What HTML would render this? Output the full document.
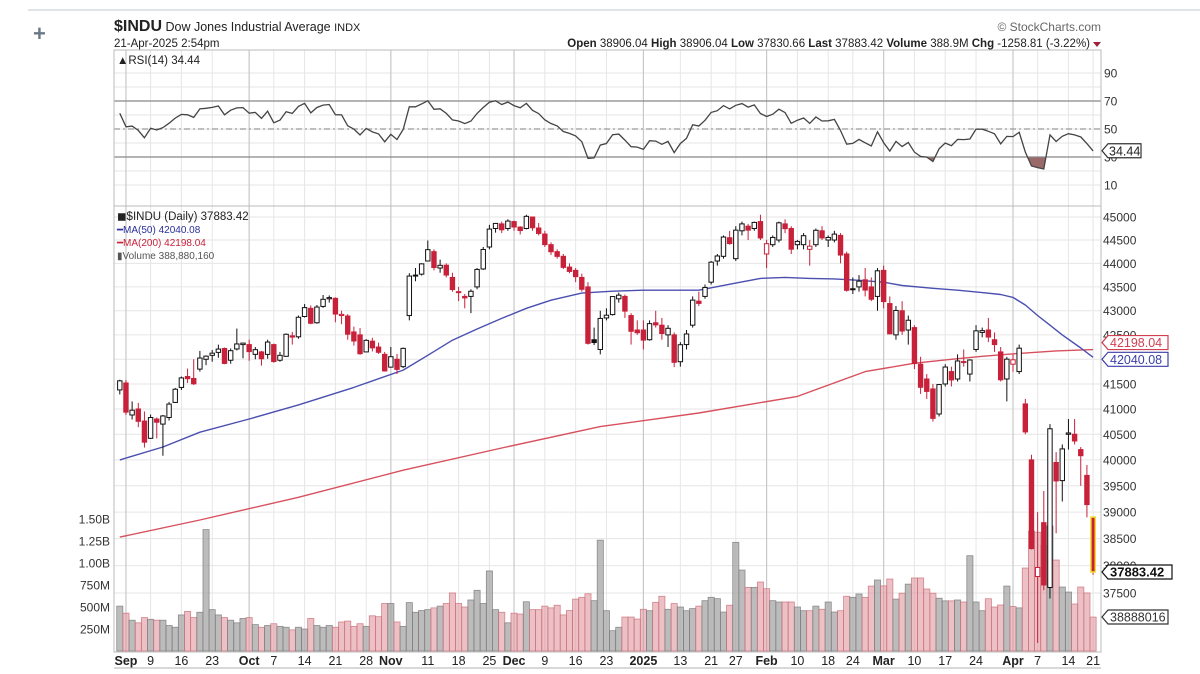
<!DOCTYPE html>
<html><head><meta charset="utf-8">
<style>
html,body{margin:0;padding:0;background:#fff;width:1200px;height:674px;overflow:hidden}
svg{display:block}
text{font-family:"Liberation Sans",Arial,sans-serif}
</style></head>
<body>
<svg id="chart" width="1200" height="674" viewBox="0 0 1200 674" xmlns="http://www.w3.org/2000/svg">
  <line x1="28" y1="10" x2="1200" y2="10" stroke="#d5dbe3" stroke-width="1.5"/>
  <text x="33" y="41" font-size="22" fill="#6d7886" font-weight="bold">+</text>
  <text x="114" y="31" font-size="12.5" fill="#222"><tspan font-weight="bold" font-size="16">$INDU</tspan> Dow Jones Industrial Average <tspan font-size="11">INDX</tspan></text>
  <text x="114" y="47" font-size="11.5" fill="#222">21-Apr-2025 2:54pm</text>
  <text x="1101" y="31" font-size="12" fill="#666" text-anchor="end">© StockCharts.com</text>
  <text x="1090" y="47" font-size="11.5" fill="#222" text-anchor="end"><tspan font-weight="bold">Open</tspan> 38906.04 <tspan font-weight="bold">High</tspan> 38906.04 <tspan font-weight="bold">Low</tspan> 37830.66 <tspan font-weight="bold">Last</tspan> 37883.42 <tspan font-weight="bold">Volume</tspan> 388.9M <tspan font-weight="bold">Chg</tspan> -1258.81 (-3.22%)</text>
  <path d="M1093,42 L1101,42 L1097,47 Z" fill="#a0203a"/>
  <g id="grid"></g>
  <g id="vol"></g>
  <g id="lines"></g>
  <g id="candles"></g>
  <g id="rsi"></g>
  <g id="axes"></g>
</svg>
<script>
const closes=[41563,40937,40975,40755,40345,40830,40737,40861,41097,41394,41622,41606,41503,42025,42063,42124,42208,41915,42175,42313,42330,
42156,42196,42011,42352,41954,42080,42512,42454,42864,43065,42740,43077,43239,43275,42931,42924,42514,42374,42114,42387,42233,42142,41763,
42052,41794,42222,43729,43729,43989,44293,43911,43958,43751,43445,43390,43269,43408,43870,44297,44737,44860,44722,44911,
44782,44705,45014,44766,44643,44402,44248,44149,43914,43828,43717,43450,42326,42342,42840,42907,43297,43326,42992,42574,42544,
42392,42732,42706,42528,42635,41938,42297,42518,43222,43153,43488,44025,44157,44565,44424,44714,44850,44714,44882,44545,
44421,44556,44873,44747,44303,44470,44594,44368,44711,44546,44556,44628,44177,43428,43461,43621,43433,43240,43841,
43191,42521,43006,42579,42802,41912,41433,41350,40813,41488,41842,41581,41965,41953,41985,42583,42587,42455,42300,41584,42002,
41989,42226,40546,38315,37966,37646,40608,39594,40213,40525,40368,40081,39142,37883];
const opens=[41380,41520,40880,41000,40760,40420,40800,40700,40830,41130,41430,41650,41610,41800,42000,42080,42140,42220,41980,42210,42300,
42300,42100,42150,42100,42300,41980,42060,42480,42460,42880,43050,42750,43090,43250,43260,42900,42890,42560,42500,42150,42370,42250,42100,
41840,42000,41850,42900,43750,43770,44050,44250,43900,43960,43700,43400,43300,43300,43500,43880,44350,44750,44850,44750,
44900,44780,44750,45000,44760,44630,44400,44250,44150,43920,43850,43700,43500,42400,42200,42850,42920,43250,43300,42900,42600,
42600,42400,42750,42700,42500,42500,41950,42300,42700,43200,43300,43600,44050,44150,44550,44100,44700,44800,44750,44900,
44200,44400,44500,44850,44750,44400,44400,44300,44400,44700,44500,44500,44600,44200,43450,43500,43650,43500,43300,
43850,43150,42500,43000,42600,42650,41900,41600,41400,40900,41500,41750,41600,41950,41700,42200,42550,42600,42400,42150,41600,
41900,41750,41100,40000,37800,38800,37600,39950,39600,40500,40500,40200,39700,38906];
const highs=[41585,41580,41150,41120,40950,40890,40830,40880,41140,41420,41650,41810,42000,42170,42080,42190,42300,42240,42220,42630,42340,
42400,42250,42170,42400,42320,42150,42530,42560,42900,43140,43110,43120,43330,43320,43280,43000,42930,42670,42640,42410,42440,42340,42150,
42250,42110,42240,43790,43900,44000,44490,44300,44080,44000,43800,43500,43350,43450,43900,44350,44830,44870,44900,44950,
44920,44800,45050,45010,44870,44700,44450,44300,44200,44000,43900,43780,43600,42650,43000,43050,43300,43380,43340,42950,42800,
42800,42800,43000,42850,42700,42550,42350,42600,43300,43400,43550,44050,44200,44600,44700,44800,44900,44850,44900,45050,
44500,44600,44900,44950,44800,44500,44650,44500,44750,44800,44600,44700,44650,44250,43700,43750,43900,43700,43900,
43950,43300,43100,43200,42900,42700,42050,41700,41500,41500,41900,41850,42100,42200,42000,42700,42650,42850,42550,42250,42050,
42100,42300,41200,40100,39000,39400,40700,40150,40300,40800,40800,40250,39900,38906];
const lows=[41290,40880,40790,40640,40240,40410,40420,40080,40770,41120,41380,41520,41480,41750,41880,41950,42030,41900,41910,42180,42020,
41970,42000,41870,42010,41930,41950,42050,42300,42420,42860,42720,42730,43060,43170,42760,42720,42400,42280,42090,42150,42160,42110,41750,
41830,41700,41820,42800,43620,43740,44040,43850,43800,43700,43400,43200,43050,42950,43450,43860,44300,44660,44650,44700,
44700,44620,44730,44700,44600,44350,44180,44100,43880,43790,43600,43400,42300,42290,42100,42800,42900,43170,42850,42300,42500,
42200,42380,42650,42400,42250,41840,41850,42200,42650,43100,43250,43550,43950,44100,44400,44050,44600,44500,44700,44500,
43900,44350,44450,44650,44200,44300,44300,43950,44350,44500,44350,44450,44000,43400,43350,43400,43300,43200,43000,
43050,42600,42400,42500,42300,41800,41300,41200,40750,40850,41450,41450,41550,41850,41550,42150,42450,42350,42150,41550,41150,
41750,41700,40500,38300,36600,37550,37400,38600,39200,40200,40300,39500,38900,37830];
const volumes=[510,430,350,320,380,360,350,350,290,270,410,450,380,440,1380,470,410,380,350,320,370,
380,300,270,290,310,280,270,240,270,250,370,290,270,290,270,330,340,280,310,280,400,390,540,
540,330,280,550,440,460,470,490,510,540,660,540,500,580,690,540,910,470,440,320,
430,420,560,470,470,510,490,520,410,460,590,610,650,572,1260,458,231,270,386,386,363,
474,458,553,622,474,539,500,458,482,510,572,610,595,443,520,1235,920,723,723,784,
708,572,557,557,557,500,458,458,510,474,557,443,458,622,610,648,610,738,807,
740,818,590,657,760,830,830,705,657,600,570,570,580,557,1083,557,458,594,500,523,738,
506,490,943,1364,1350,1200,1420,1034,727,670,534,727,660,386];
const priorCloses=[40589,40358,40743,40539,40935,40743,40842,40348,39737,38703,38998,38763,39446,39498,39357,39765,40008,40563,40659,40896,40834,40890,40712,41175,41240,41250,41091,41335];
const ma50Idx=[0,7,13,21,29,38,46,50,54,58,62,66,70,75,80,85,94,100,104,108,112,116,120,124,127,132,136,140,143,145,147,149,151,153,156,158];
const ma50Val=[40000,40250,40540,40800,41080,41430,41780,42080,42390,42620,42840,43050,43220,43370,43410,43430,43430,43580,43680,43700,43680,43670,43640,43600,43530,43470,43430,43380,43340,43280,43120,42900,42700,42500,42230,42040];
const ma200Idx=[0,13,29,46,62,78,94,110,121,129,135,140,146,152,158];
const ma200Val=[38530,38850,39280,39800,40230,40650,40920,41250,41750,41920,42000,42060,42120,42170,42198];
const priceTicks=[45000,44500,44000,43500,43000,42500,42000,41500,41000,40500,40000,39500,39000,38500,38000,37500];
const volTickVals=[1500,1250,1000,750,500,250];
const volTickLabels=["1.50B","1.25B","1.00B","750M","500M","250M"];
const rsiTicks=[90,70,50,30,10];
const xLabelIdx=[1,5,10,15,21,25,30,35,40,44,50,55,60,64,69,74,79,85,91,96,100,105,110,115,119,124,129,134,139,145,149,154,158];
const xLabelText=["Sep","9","16","23","Oct","7","14","21","28","Nov","11","18","25","Dec","9","16","23","2025","13","21","27","Feb","10","18","24","Mar","10","17","24","Apr","7","14","21"];
const monthIdx=[1,21,44,64,85,105,124,145];

const NS="http://www.w3.org/2000/svg";
const L=114,R=1101,RT=50,RB=206,PB=652;
const X=i=>119.8+i*6.16;
const lnTop=Math.log(45000);
const YP=p=>217+(lnTop-Math.log(p))*2062;
const YV=v=>651-v*0.088;
const YR=r=>129-(r-50)*1.4;
function mk(tag,attrs,parent){const e=document.createElementNS(NS,tag);for(const k in attrs)e.setAttribute(k,attrs[k]);parent.appendChild(e);return e;}
const G=document.getElementById('grid'),V=document.getElementById('vol'),LN=document.getElementById('lines'),C=document.getElementById('candles'),RS=document.getElementById('rsi'),AX=document.getElementById('axes');

for(let r=10;r<=90;r+=10){const l=mk('line',{x1:L,x2:R,y1:YR(r),y2:YR(r),stroke:'#e6e6e6','stroke-width':1},G);

}
priceTicks.forEach(p=>{const l=mk('line',{x1:L,x2:R,y1:YP(p),y2:YP(p),stroke:'#e6e6e6','stroke-width':1},G);

});
xLabelIdx.forEach(i=>{const m=monthIdx.includes(i);const l=mk('line',{x1:X(i),x2:X(i),y1:RT,y2:PB,stroke:m?'#c8c8c8':'#e6e6e6','stroke-width':m?1.2:1},G);

});

volumes.forEach((v,i)=>{const prev=i===0?priorCloses[priorCloses.length-1]:closes[i-1];const dn=closes[i]<prev;
const r=mk('rect',{x:X(i)-3.08,y:YV(v),width:6.16,height:651-YV(v),fill:dn?'rgba(220,140,150,0.55)':'rgba(160,160,160,0.7)',stroke:dn?'rgba(200,110,120,0.8)':'rgba(120,120,120,0.8)','stroke-width':0.8},V);

});

function line(idx,vals,color,name){let d='';idx.forEach((i,k)=>{d+=(k?'L':'M')+X(i).toFixed(1)+','+YP(vals[k]).toFixed(1);});
const p=mk('path',{d:d,fill:'none',stroke:color,'stroke-width':1.4,'stroke-linejoin':'round'},LN);

}
line(ma200Idx,ma200Val,'#d8505e','ma200-line');
line(ma50Idx,ma50Val,'#4a4fb0','ma50-line');

closes.forEach((c,i)=>{const o=opens[i],h=highs[i],lo=lows[i];const prev=i===0?priorCloses[priorCloses.length-1]:closes[i-1];
const col=c<prev?'#c8213a':'#111';const x=X(i);
const w=mk('line',{x1:x,x2:x,y1:YP(h),y2:YP(lo),stroke:col,'stroke-width':1},C);


const top=YP(Math.max(o,c)),bot=YP(Math.min(o,c));const filled=c<o;const last=i===closes.length-1;
const b=mk('rect',{x:x-2.2,y:top,width:4.4,height:Math.max(1,bot-top),fill:filled?col:'#fff',stroke:last?'#f2e030':col,'stroke-width':last?1.5:1},C);

});

// RSI (Wilder 14) from closes
const all=priorCloses.concat(closes);let ag=0,al=0;for(let k=1;k<=14;k++){const d=all[k]-all[k-1];if(d>0)ag+=d;else al-=d;}ag/=14;al/=14;
const rsiAll=[];for(let k=15;k<all.length;k++){const d=all[k]-all[k-1];ag=(ag*13+Math.max(d,0))/14;al=(al*13+Math.max(-d,0))/14;rsiAll.push(100-100/(1+ag/al));}
const rsiVals=rsiAll.slice(rsiAll.length-closes.length);
const cpath=mk('clipPath',{id:'below30'},RS);
mk('rect',{x:L,y:YR(30),width:R-L,height:40},cpath);
let dr='';rsiVals.forEach((r,i)=>{dr+=(i?'L':'M')+X(i).toFixed(1)+','+YR(r).toFixed(1);});
const fill=mk('path',{d:dr+'L'+X(rsiVals.length-1)+','+YR(30)+'L'+X(0)+','+YR(30)+'Z',fill:'#9a6a6a','clip-path':'url(#below30)'},RS);


[[70,'#888',''],[30,'#888',''],[50,'#999','6,3,2,3']].forEach(a=>{const l=mk('line',{x1:L,x2:R,y1:YR(a[0]),y2:YR(a[0]),stroke:a[1],'stroke-width':1.3,'stroke-dasharray':a[2]},RS);

});
const rl=mk('path',{d:dr,fill:'none',stroke:'#444','stroke-width':1.3},RS);



[[L,RT,R-L,RB-RT],[L,RB,R-L,PB-RB]].forEach((r,k)=>{const e=mk('rect',{x:r[0],y:r[1],width:r[2],height:r[3],fill:'none',stroke:'#bbb','stroke-width':1},AX);

});
const xb=mk('line',{x1:L,x2:R,y1:668,y2:668,stroke:'#ccc','stroke-width':1.5},AX);



rsiTicks.forEach(r=>{const t=mk('text',{x:1104,y:YR(r)+4.5,'font-size':12,fill:'#333'},AX);t.textContent=r;

});
priceTicks.forEach(p=>{const t=mk('text',{x:1103,y:YP(p)+4.5,'font-size':12,fill:'#333'},AX);t.textContent=p;

});
volTickVals.forEach((v,k)=>{const t=mk('text',{x:110,y:YV(v)+4.5,'font-size':12,fill:'#333','text-anchor':'end'},AX);t.textContent=volTickLabels[k];

});
xLabelIdx.forEach((i,k)=>{const m=monthIdx.includes(i);const t=mk('text',{x:X(i),y:665,'font-size':12.5,fill:'#222','text-anchor':'middle','font-weight':m?'bold':'normal'},AX);t.textContent=xLabelText[k];

});

function tag(y,txt,col,bold,name){const w=bold?64:60;const g=mk('g',{},AX);


mk('path',{d:`M${R+1},${y} L${R+7},${y-7} L${R+7+w},${y-7} L${R+7+w},${y+7} L${R+7},${y+7} Z`,fill:'#fff',stroke:col,'stroke-width':1.2},g);
const t=mk('text',{x:R+9,y:y+4.5,'font-size':bold?13:12.5,fill:col,'font-weight':bold?'bold':'normal'},g);t.textContent=txt;}
tag(YP(42198.04)-7,'42198.04','#d04050',false,'ma200-value-tag');
tag(YP(42040.08)+2,'42040.08','#3a3fa8',false,'ma50-value-tag');
tag(YP(37883.42),'37883.42','#111',true,'last-price-tag');
tag(617,'38888016','#333',false,'volume-value-tag');
(function(){const y=YR(34.44);const g=mk('g',{},AX);


mk('path',{d:`M${R+1},${y} L${R+7},${y-7} L${R+40},${y-7} L${R+40},${y+7} L${R+7},${y+7} Z`,fill:'#fff',stroke:'#333','stroke-width':1.2},g);
const t=mk('text',{x:R+8,y:y+4.5,'font-size':12.5,fill:'#222'},g);t.textContent='34.44';})();

function leg(x,y,txt,col,name,size){const t=mk('text',{x:x,y:y,'font-size':size||11,fill:col,'font-family':'DejaVu Sans, sans-serif'},AX);t.textContent=txt;

}
leg(117,64,'▲RSI(14) 34.44','#222','rsi-legend',11.5);
leg(117,220,'◼$INDU (Daily) 37883.42','#222','price-legend',11.5);
leg(117,233,'━MA(50) 42040.08','#2a2f9a','ma50-legend',10);
leg(117,246,'━MA(200) 42198.04','#c8213a','ma200-legend',10);
leg(117,259,'▮Volume 388,880,160','#555','volume-legend',10);
</script>
</body></html>
